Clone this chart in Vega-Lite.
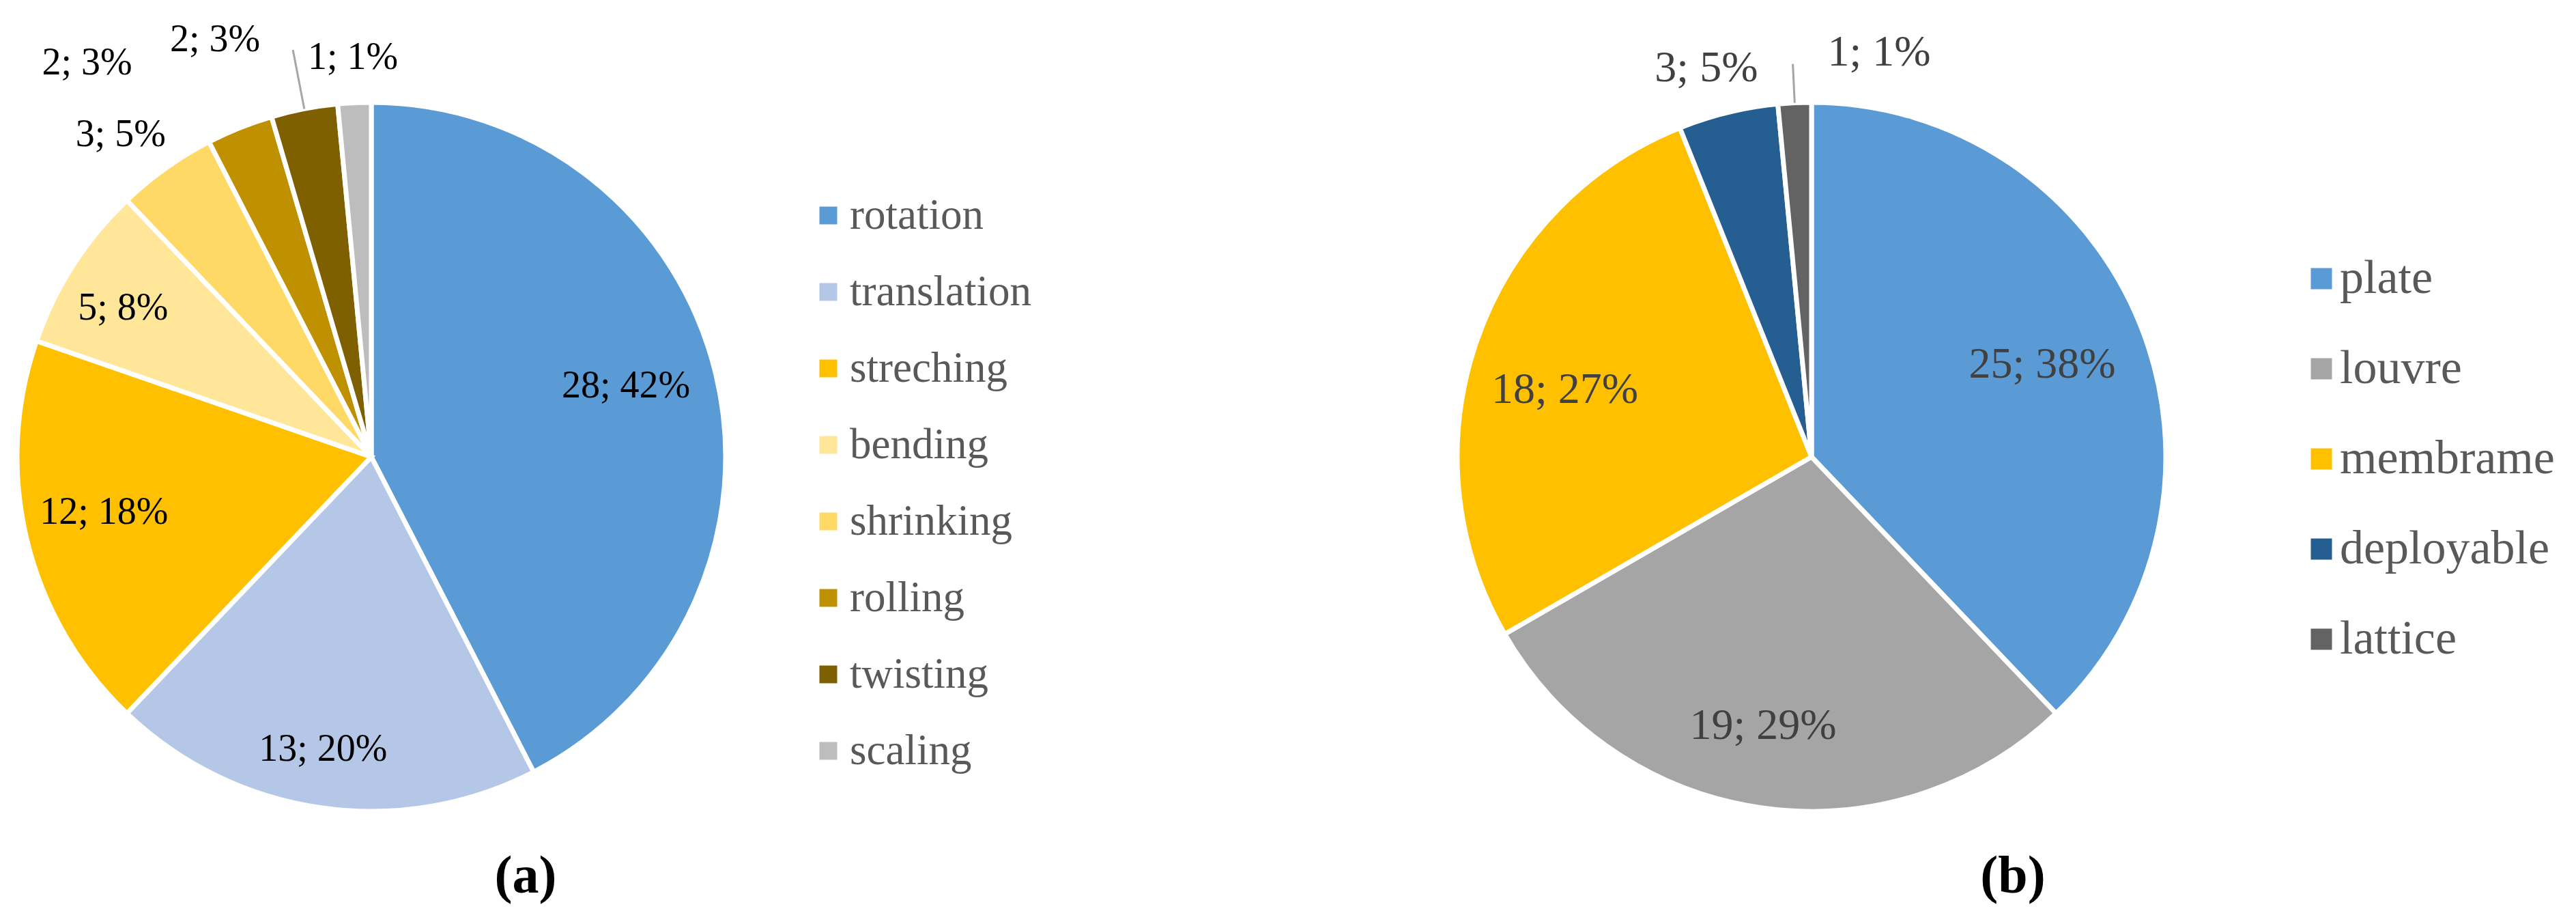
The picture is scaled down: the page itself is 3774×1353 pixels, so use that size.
{
  "$schema": "https://vega.github.io/schema/vega-lite/v6.json",
  "background": "white",
  "padding": 0,
  "datasets": {
    "motion": [
      {"cat": "rotation", "n": 28, "o": 1, "label": "28; 42%"},
      {"cat": "translation", "n": 13, "o": 2, "label": "13; 20%"},
      {"cat": "streching", "n": 12, "o": 3, "label": "12; 18%"},
      {"cat": "bending", "n": 5, "o": 4, "label": "5; 8%"},
      {"cat": "shrinking", "n": 3, "o": 5, "label": "3; 5%"},
      {"cat": "rolling", "n": 2, "o": 6, "label": "2; 3%"},
      {"cat": "twisting", "n": 2, "o": 7, "label": "2; 3%"},
      {"cat": "scaling", "n": 1, "o": 8, "label": "1; 1%"}
    ],
    "kind": [
      {"cat": "plate", "n": 25, "o": 1, "label": "25; 38%"},
      {"cat": "louvre", "n": 19, "o": 2, "label": "19; 29%"},
      {"cat": "membrame", "n": 18, "o": 3, "label": "18; 27%"},
      {"cat": "deployable", "n": 3, "o": 4, "label": "3; 5%"},
      {"cat": "lattice", "n": 1, "o": 5, "label": "1; 1%"}
    ]
  },
  "spacing": 1022,
  "bounds": "flush",
  "hconcat": [
    {
      "width": 1088,
      "height": 1338,
      "data": {"name": "motion"},
      "title": {"text": "(a)", "orient": "bottom", "anchor": "middle", "frame": "group", "offset": -31, "dx": 226, "fontSize": 78, "font": "Liberation Serif", "fontWeight": "bold", "color": "#000000", "baseline": "alphabetic"},
      "encoding": {
        "theta": {"field": "n", "type": "quantitative", "stack": true},
        "order": {"field": "o", "type": "quantitative"},
        "detail": {"field": "cat", "type": "nominal"}
      },
      "layer": [
        {
          "mark": {"type": "arc", "outerRadius": 519, "stroke": "white", "strokeWidth": 7},
          "encoding": {
            "color": {
              "field": "cat", "type": "nominal",
              "scale": {
                "domain": ["rotation", "translation", "streching", "bending", "shrinking", "rolling", "twisting", "scaling"],
                "range": ["#5B9BD5", "#B4C7E7", "#FFC000", "#FFE699", "#FFD966", "#BF9000", "#7F6000", "#BDBDBD"]
              },
              "legend": {"orient": "none", "legendX": 1182, "legendY": 284, "title": null, "symbolType": "square", "symbolSize": 676, "symbolStrokeWidth": 0, "labelFontSize": 63, "labelFont": "Liberation Serif", "labelColor": "#595959", "rowPadding": 48, "labelOffset": 0, "labelLimit": 2000, "padding": 0}
            }
          }
        },
        {"mark": {"type": "arc", "clip": true, "innerRadius": 519, "outerRadius": 607, "padAngle": 0.6, "filled": false, "stroke": "#A6A6A6", "strokeWidth": 3},
         "encoding": {"opacity": {"condition": {"test": "datum.cat === 'twisting'", "value": 1}, "value": 0}}},
        {"mark": {"type": "text", "clip": true, "radius": 387, "dx": -3, "dy": -13, "fontSize": 56, "font": "Liberation Serif", "color": "#000000"},
         "encoding": {"text": {"condition": {"test": "datum.cat === 'rotation'", "field": "label"}, "value": ""}}},
        {"mark": {"type": "text", "clip": true, "radius": 434, "dx": -9, "dy": -2, "fontSize": 56, "font": "Liberation Serif", "color": "#000000"},
         "encoding": {"text": {"condition": {"test": "datum.cat === 'translation'", "field": "label"}, "value": ""}}},
        {"mark": {"type": "text", "clip": true, "radius": 400, "dx": -3, "dy": -13, "fontSize": 56, "font": "Liberation Serif", "color": "#000000"},
         "encoding": {"text": {"condition": {"test": "datum.cat === 'streching'", "field": "label"}, "value": ""}}},
        {"mark": {"type": "text", "clip": true, "radius": 424, "dx": -7, "dy": 11, "fontSize": 56, "font": "Liberation Serif", "color": "#000000"},
         "encoding": {"text": {"condition": {"test": "datum.cat === 'bending'", "field": "label"}, "value": ""}}},
        {"mark": {"type": "text", "clip": true, "radius": 607, "dx": -15, "dy": 22, "fontSize": 56, "font": "Liberation Serif", "color": "#000000"},
         "encoding": {"text": {"condition": {"test": "datum.cat === 'shrinking'", "field": "label"}, "value": ""}}},
        {"mark": {"type": "text", "clip": true, "radius": 690, "dx": -160, "dy": 64, "fontSize": 56, "font": "Liberation Serif", "color": "#000000"},
         "encoding": {"text": {"condition": {"test": "datum.cat === 'rolling'", "field": "label"}, "value": ""}}},
        {"mark": {"type": "text", "clip": true, "radius": 644, "dx": -107, "dy": 21, "fontSize": 56, "font": "Liberation Serif", "color": "#000000"},
         "encoding": {"text": {"condition": {"test": "datum.cat === 'twisting'", "field": "label"}, "value": ""}}},
        {"mark": {"type": "text", "clip": true, "radius": 586, "dx": 1, "dy": 0, "fontSize": 56, "font": "Liberation Serif", "color": "#000000"},
         "encoding": {"text": {"condition": {"test": "datum.cat === 'scaling'", "field": "label"}, "value": ""}}}
      ]
    },
    {
      "width": 1088,
      "height": 1338,
      "data": {"name": "kind"},
      "title": {"text": "(b)", "orient": "bottom", "anchor": "middle", "frame": "group", "offset": -31, "dx": 295, "fontSize": 78, "font": "Liberation Serif", "fontWeight": "bold", "color": "#000000", "baseline": "alphabetic"},
      "encoding": {
        "theta": {"field": "n", "type": "quantitative", "stack": true},
        "order": {"field": "o", "type": "quantitative"},
        "detail": {"field": "cat", "type": "nominal"}
      },
      "layer": [
        {
          "mark": {"type": "arc", "outerRadius": 519, "stroke": "white", "strokeWidth": 7},
          "encoding": {
            "color": {
              "field": "cat", "type": "nominal",
              "scale": {
                "domain": ["plate", "louvre", "membrame", "deployable", "lattice"],
                "range": ["#5B9BD5", "#A5A5A5", "#FFC000", "#255E91", "#636363"]
              },
              "legend": {"orient": "none", "legendX": 1256, "legendY": 373, "title": null, "symbolType": "square", "symbolSize": 961, "symbolStrokeWidth": 0, "labelFontSize": 70, "labelFont": "Liberation Serif", "labelColor": "#595959", "rowPadding": 62, "labelOffset": -8, "labelLimit": 2000, "padding": 0}
            }
          }
        },
        {"mark": {"type": "arc", "clip": true, "innerRadius": 519, "outerRadius": 576, "padAngle": 0.6, "filled": false, "stroke": "#A6A6A6", "strokeWidth": 3},
         "encoding": {"opacity": {"condition": {"test": "datum.cat === 'lattice'", "value": 1}, "value": 0}}},
        {"mark": {"type": "text", "clip": true, "radius": 364, "dx": 0, "dy": 0, "fontSize": 64, "font": "Liberation Serif", "color": "#404040"},
         "encoding": {"text": {"condition": {"test": "datum.cat === 'plate'", "field": "label"}, "value": ""}}},
        {"mark": {"type": "text", "clip": true, "radius": 400, "dx": -14, "dy": -2, "fontSize": 64, "font": "Liberation Serif", "color": "#404040"},
         "encoding": {"text": {"condition": {"test": "datum.cat === 'louvre'", "field": "label"}, "value": ""}}},
        {"mark": {"type": "text", "clip": true, "radius": 374, "dx": -8, "dy": 24, "fontSize": 64, "font": "Liberation Serif", "color": "#404040"},
         "encoding": {"text": {"condition": {"test": "datum.cat === 'membrame'", "field": "label"}, "value": ""}}},
        {"mark": {"type": "text", "clip": true, "radius": 590, "dx": -15, "dy": 4, "fontSize": 64, "font": "Liberation Serif", "color": "#404040"},
         "encoding": {"text": {"condition": {"test": "datum.cat === 'deployable'", "field": "label"}, "value": ""}}},
        {"mark": {"type": "text", "clip": true, "radius": 587, "dx": 127, "dy": -6, "fontSize": 64, "font": "Liberation Serif", "color": "#404040"},
         "encoding": {"text": {"condition": {"test": "datum.cat === 'lattice'", "field": "label"}, "value": ""}}}
      ]
    }
  ],
  "resolve": {"scale": {"color": "independent", "theta": "independent"}, "legend": {"color": "independent"}},
  "config": {
    "font": "Liberation Serif",
    "view": {"stroke": null},
    "legend": {"padding": 0}
  }
}
